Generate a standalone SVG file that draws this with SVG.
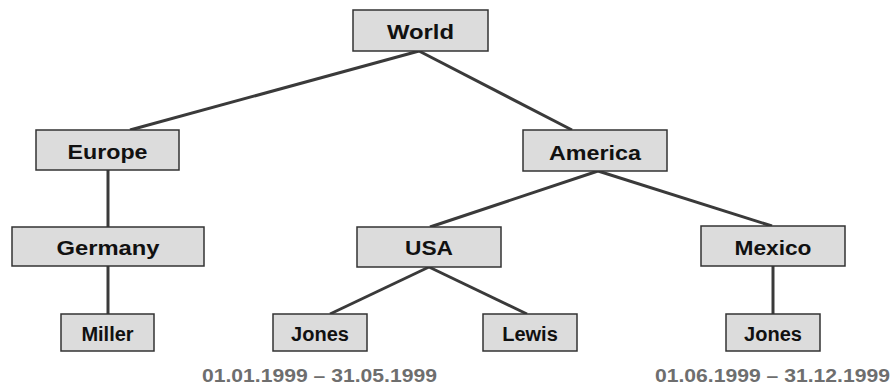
<svg xmlns="http://www.w3.org/2000/svg" width="893" height="387" viewBox="0 0 893 387">
  <style>
    .box { fill: #dcdcdc; stroke: #333333; stroke-width: 1.5; }
    .lbl { font-family: "Liberation Sans", Arial, sans-serif; font-weight: bold; font-size: 20px; fill: #111111; text-anchor: middle; }
    .edge { stroke: #3a3a3a; stroke-width: 3; fill: none; }
    .date { font-family: "Liberation Sans", Arial, sans-serif; font-weight: bold; font-size: 18px; fill: #6e6e6e; }
  </style>
  <rect width="893" height="387" fill="#ffffff"/>

  <!-- tree edges -->
  <g id="connectors">
    <line class="edge" x1="419" y1="51" x2="130" y2="130"/>
    <line class="edge" x1="419" y1="51" x2="572" y2="130"/>
    <line class="edge" x1="108" y1="170" x2="108" y2="227"/>
    <line class="edge" x1="108" y1="266" x2="108" y2="314"/>
    <line class="edge" x1="598" y1="171" x2="430" y2="227"/>
    <line class="edge" x1="598" y1="171" x2="772" y2="226"/>
    <line class="edge" x1="429" y1="267" x2="330" y2="314"/>
    <line class="edge" x1="429" y1="267" x2="527" y2="314"/>
    <line class="edge" x1="773" y1="266" x2="773" y2="314"/>
  </g>

  <g id="world">
    <rect class="box" x="353" y="10" width="135" height="41"/>
    <text class="lbl" x="420.5" y="39" textLength="67" lengthAdjust="spacingAndGlyphs">World</text>
  </g>
  <g id="europe">
    <rect class="box" x="36" y="130" width="143" height="40"/>
    <text class="lbl" x="107.5" y="159" textLength="80" lengthAdjust="spacingAndGlyphs">Europe</text>
  </g>
  <g id="america">
    <rect class="box" x="523" y="130" width="144" height="41"/>
    <text class="lbl" x="595" y="160" textLength="92" lengthAdjust="spacingAndGlyphs">America</text>
  </g>
  <g id="germany">
    <rect class="box" x="12" y="227" width="192" height="39"/>
    <text class="lbl" x="108" y="255" textLength="103" lengthAdjust="spacingAndGlyphs">Germany</text>
  </g>
  <g id="usa">
    <rect class="box" x="357" y="227" width="144" height="40"/>
    <text class="lbl" x="429" y="255" textLength="48" lengthAdjust="spacingAndGlyphs">USA</text>
  </g>
  <g id="mexico">
    <rect class="box" x="701" y="226" width="144" height="40"/>
    <text class="lbl" x="773" y="255" textLength="77" lengthAdjust="spacingAndGlyphs">Mexico</text>
  </g>
  <g id="miller">
    <rect class="box" x="61" y="314" width="93" height="37"/>
    <text class="lbl" x="107.5" y="341">Miller</text>
  </g>
  <g id="jones-usa">
    <rect class="box" x="273" y="314" width="94" height="37"/>
    <text class="lbl" x="320" y="341">Jones</text>
  </g>
  <g id="lewis">
    <rect class="box" x="483" y="314" width="94" height="37"/>
    <text class="lbl" x="530" y="341">Lewis</text>
  </g>
  <g id="jones-mexico">
    <rect class="box" x="726" y="314" width="94" height="37"/>
    <text class="lbl" x="773" y="341">Jones</text>
  </g>

  <!-- validity periods -->
  <text class="date" x="202" y="382" textLength="235" lengthAdjust="spacingAndGlyphs">01.01.1999 – 31.05.1999</text>
  <text class="date" x="655" y="382" textLength="235" lengthAdjust="spacingAndGlyphs">01.06.1999 – 31.12.1999</text>
</svg>
